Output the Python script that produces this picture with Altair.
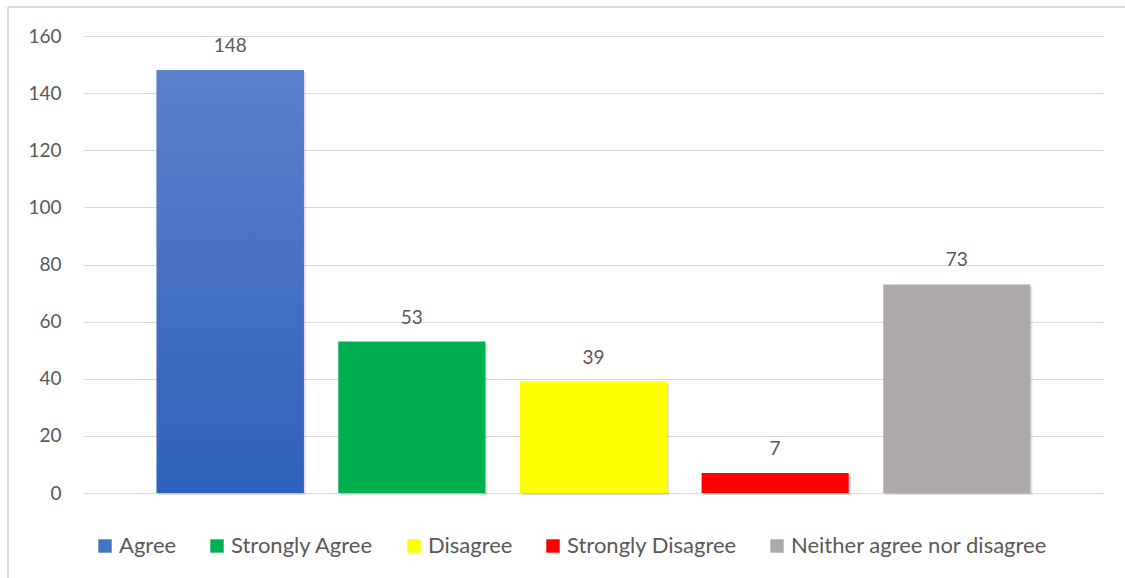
import altair as alt
import pandas as pd

# Survey responses and their counts
categories = ["Agree", "Strongly Agree", "Disagree", "Strongly Disagree",
              "Neither agree nor disagree"]
counts = [148, 53, 39, 7, 73]
colors = ["#4472c4", "#00b050", "#ffff00", "#ff0000", "#aeaaaa"]
y_ticks = [0, 20, 40, 60, 80, 100, 120, 140, 160]

FONT = "Lato"
TEXT_COLOR = "#595959"

df = pd.DataFrame({"response": categories, "count": counts})

x_enc = alt.X("response:N", sort=categories, axis=None,
              scale=alt.Scale(paddingInner=0.19, paddingOuter=0.4))
y_enc = alt.Y("count:Q",
              scale=alt.Scale(domain=[0, 160], nice=False),
              axis=alt.Axis(values=y_ticks, title=None, grid=True,
                            gridColor="#d9d9d9", gridWidth=1.2,
                            domain=False, ticks=False,
                            labelFontSize=19, labelColor=TEXT_COLOR,
                            labelFont=FONT, labelPadding=23))

base = alt.Chart(df)

# soft drop shadow behind each bar
shadow = base.mark_bar(color="#000000", opacity=0.12, xOffset=2, yOffset=2).encode(
    x=x_enc, y=y_enc
)

bars = base.mark_bar().encode(
    x=x_enc,
    y=y_enc,
    color=alt.Color(
        "response:N",
        sort=categories,
        scale=alt.Scale(domain=categories, range=colors),
        legend=alt.Legend(
            orient="none", legendX=10, legendY=499, direction="horizontal",
            title=None, symbolType="square", symbolSize=180,
            symbolStrokeWidth=0, labelFontSize=22, labelFont=FONT,
            labelColor=TEXT_COLOR, columnPadding=29, labelOffset=3,
            labelLimit=400,
        ),
    ),
)

# the "Agree" bar carries a vertical blue gradient
agree_fill = base.transform_filter(alt.datum.response == "Agree").mark_bar(
    color=alt.Gradient(
        gradient="linear", x1=0, x2=0, y1=0, y2=1,
        stops=[alt.GradientStop(color="#5b80cb", offset=0),
               alt.GradientStop(color="#2f61bc", offset=1)],
    )
).encode(x=x_enc, y=y_enc)

labels = base.mark_text(dy=-24, fontSize=19, font=FONT, color=TEXT_COLOR,
                        baseline="middle").encode(
    x=x_enc, y=y_enc, text=alt.Text("count:Q")
)

# thin frame along the top and left edges
frame_top = base.mark_rule(color="#d9d9d9", strokeWidth=1.5).encode(
    x=alt.value(-76), x2=alt.value(1100), y=alt.value(-29)
)
frame_left = base.mark_rule(color="#d9d9d9", strokeWidth=1.5).encode(
    x=alt.value(-76), y=alt.value(-29), y2=alt.value(600)
)

chart = alt.layer(
    frame_top, frame_left, shadow, bars, agree_fill, labels
).properties(
    width=1019, height=457,
    autosize=alt.AutoSizeParams(type="none"),
    padding={"left": 84, "top": 36, "right": 22, "bottom": 85},
    background="white",
).configure_view(stroke=None)

chart.save("out.html", embed_options={"renderer": "svg", "actions": False})
